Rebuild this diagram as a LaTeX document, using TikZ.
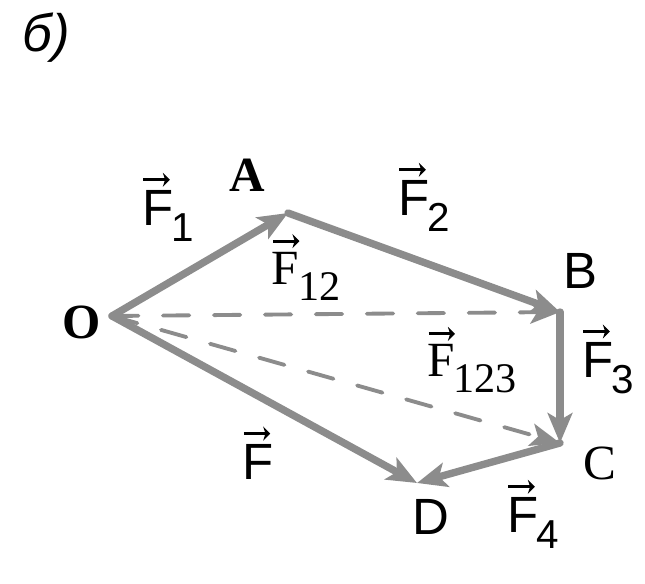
\documentclass[tikz,border=0pt]{standalone}
\usepackage{fontspec}
\setmainfont{Liberation Serif}
\setsansfont{Liberation Sans}
\usetikzlibrary{arrows.meta}
\definecolor{vecgray}{RGB}{140,140,140}
% F with a lowered subscript; the vector arrow is drawn on top by tikz
\newcommand{\sF}[1]{F\kern-1pt\raisebox{-9pt}{\fontsize{23}{23}\selectfont #1}}
\newcommand{\rF}[1]{F\kern-0.5pt\raisebox{-9pt}{\fontsize{24}{24}\selectfont #1}}
\tikzset{
  force/.style={line width=4.2pt, color=vecgray, -{Stealth[length=17pt, width=14pt, inset=4pt]}},
  sum/.style={line width=2.2pt, color=vecgray, dash pattern=on 15pt off 14pt, -{Stealth[length=17pt, width=13pt, inset=4pt]}},
  varrow/.style={line width=1.8pt, line cap=butt, -{Stealth[length=4pt, width=8pt]}},
  lbl/.style={font=\sffamily\fontsize{29}{30}\selectfont, inner sep=0pt},
  pt/.style={font=\rmfamily\fontsize{28}{30}\selectfont, inner sep=0pt}
}
\begin{document}
\begin{tikzpicture}[x=0.02cm, y=-0.02cm, line join=round, line cap=round]
  \useasboundingbox (0,0) rectangle (645,584);
  % points
  \coordinate (O) at (112,316);
  \coordinate (A) at (288,213);
  \coordinate (B) at (560,312);
  \coordinate (C) at (560,443);
  \coordinate (D) at (417,483);
  % sums
  \draw[sum] (O) -- (B);
  \draw[sum] (O) -- (C);
  % forces
  \draw[force] (O) -- (A);
  \draw[force] (A) -- (B);
  \draw[force] (B) -- (C);
  \draw[force] (C) -- (D);
  \draw[force] (O) -- (D);
  % labels
  \node[lbl, font=\sffamily\itshape\fontsize{30}{30}\selectfont] (title) at (46,38) {б)};
  \node[pt, font=\rmfamily\bfseries\fontsize{28}{30}\selectfont] (lA) at (247,175) {A};
  \node[pt, font=\rmfamily\bfseries\fontsize{28}{30}\selectfont] (lO) at (82,322) {O};
  \node[lbl] (lB) at (580,271) {B};
  \node[pt] (lC) at (600,463) {C};
  \node[lbl] (lD) at (431,517) {D};
  \node[lbl] (f1) at (168,216) {\sF{1}};
  \node[lbl] (f2) at (424,206) {\sF{2}};
  \node[lbl] (f3) at (608,368) {\sF{3}};
  \node[lbl] (f4) at (533,523) {\sF{4}};
  \node[lbl] (f) at (258,462) {F};
  \node[pt] (f12) at (306,276) {\rF{12}};
  \node[pt] (f123) at (472,369) {\rF{123}};
  % vector arrows
  \foreach \n in {f1,f2,f3,f4,f,f12,f123}
    \draw[varrow] ([xshift=1pt, yshift=6pt]\n.north west) -- ++(15pt,0);
\end{tikzpicture}
\end{document}
